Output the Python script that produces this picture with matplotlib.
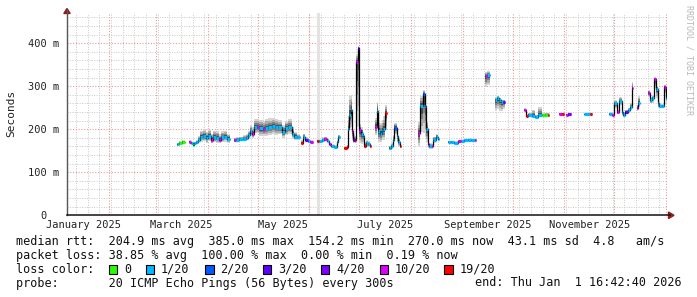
import numpy as np
import matplotlib
matplotlib.use("Agg")
import matplotlib.pyplot as plt
from matplotlib.patches import Polygon, Rectangle
from matplotlib.lines import Line2D

N = None
# days since 2025-01-01 (step start), median rtt in ms, loss (x/20), smoke spread below/above median (ms)
days = [
    71.5, 73.0, 74.5, 76.5, 78.9, 80.0, 81.0, 82.0, 83.0, 84.3,
    85.3, 87.0, 89.0, 90.5, 91.8, 93.0, 95.0, 96.8, 98.0, 100.0,
    101.8, 103.5, 105.9, 107.0, 109.0, 111.0, 113.0, 114.3, 115.5, 116.7,
    118.0, 119.5, 121.0, 123.0, 124.5, 126.5, 128.5, 130.5, 132.5, 134.8,
    136.5, 138.5, 140.7, 142.0, 143.7, 145.3, 146.0, 147.3, 148.5, 150.0,
    151.5, 153.0, 155.7, 157.0, 158.5, 160.0, 161.5, 163.0, 164.0, 166.0,
    167.7, 168.5, 169.3, 172.0, 173.5, 174.2, 175.0, 176.0, 176.8, 177.5,
    178.3, 179.3, 180.2, 181.0, 182.0, 183.0, 184.0, 185.0, 186.5, 187.5,
    188.2, 190.5, 191.5, 192.5, 193.5, 194.5, 195.5, 196.5, 197.5, 198.9,
    200.0, 201.0, 202.0, 203.5, 204.5, 205.3, 206.0, 216.4, 217.5, 219.3,
    220.3, 221.0, 222.0, 223.0, 224.5, 225.5, 226.9, 228.0, 228.8, 234.4,
    236.0, 238.0, 240.4, 242.0, 244.0, 246.0, 248.0, 250.4, 251.2, 256.5,
    257.5, 259.3, 262.2, 263.5, 265.0, 266.0, 267.3, 268.5, 279.8, 280.8,
    282.5, 284.5, 286.5, 288.5, 290.5, 292.5, 294.0, 294.8, 301.0, 302.5,
    304.0, 305.3, 306.5, 308.0, 316.0, 319.5, 320.8, 331.0, 332.5, 333.8,
    335.4, 337.0, 338.5, 339.5, 340.5, 342.0, 343.5, 344.5, 345.5, 347.8,
    348.5, 349.3, 354.2, 355.2, 356.5, 357.8, 358.8, 360.0, 361.0, 362.5,
    363.7, 364.8, 365.7]

median = [
    165, 169, 171, N, 171, 168, 163, 167, 170, 176,
    183, 184, 180, 185, 175, 182, 180, 176, 181, 183,
    178, N, 174, 176, 177, 178, 180, 186, 195, 190,
    205, 205, 202, 200, 203, 205, 207, 205, 204, 194,
    202, 205, 190, 183, 181, N, 168, 182, 175, 172,
    170, N, 172, 172, 175, 177, 173, 165, 160, 159,
    170, 183, N, 156, 158, 200, 233, 245, 195, 176,
    175, 355, 388, 198, 190, 184, 162, 167, 165, 161,
    N, 206, 243, 195, 190, 196, 200, 238, N, 156,
    160, 175, 203, 185, 170, 160, N, 191, 253, 282,
    253, 200, 166, 160, 160, 175, 183, 178, N, 170,
    170, 169, 172, 172, 174, 176, 174, 175, N, 323,
    327, N, 268, 272, 268, 263, 263, N, 245, 231,
    234, 231, 229, 232, 233, 234, 234, N, 236, 236,
    N, 234, 236, N, 235, 235, N, 235, 233, 260,
    240, 266, 240, 233, 240, 244, 252, 295, N, 250,
    262, N, 285, 268, 272, 316, 293, 260, 254, 254,
    298, 272, N]

loss = [
    1, 0, 0, 0, 10, 1, 0, 1, 1, 1,
    1, 1, 1, 1, 10, 1, 1, 10, 1, 1,
    1, 0, 10, 1, 1, 1, 1, 1, 1, 10,
    1, 10, 1, 10, 1, 1, 1, 1, 1, 1,
    1, 1, 1, 1, 1, 0, 19, 1, 3, 1,
    10, 0, 19, 1, 1, 10, 1, 10, 1, 1,
    1, 1, 0, 19, 19, 1, 1, 1, 10, 3,
    19, 10, 4, 10, 1, 1, 19, 1, 1, 19,
    0, 10, 1, 1, 1, 1, 1, 19, 0, 1,
    1, 1, 2, 1, 1, 19, 0, 10, 1, 2,
    1, 1, 10, 1, 10, 1, 1, 1, 0, 1,
    1, 1, 10, 1, 1, 1, 1, 10, 0, 10,
    1, 0, 1, 1, 1, 1, 3, 0, 10, 19,
    1, 1, 1, 1, 0, 0, 19, 0, 10, 19,
    0, 10, 4, 0, 1, 19, 0, 1, 10, 1,
    10, 1, 1, 1, 3, 1, 1, 10, 0, 10,
    1, 0, 10, 1, 1, 10, 1, 1, 1, 1,
    10, 1, 0]

smoke_lo = [
    3, 3, 3, 0, 3, 3, 3, 3, 3, 6,
    12, 12, 12, 12, 8, 12, 12, 8, 10, 12,
    10, 0, 4, 4, 4, 4, 6, 8, 10, 10,
    14, 14, 18, 16, 18, 18, 18, 18, 16, 14,
    16, 16, 12, 8, 6, 0, 4, 6, 4, 4,
    3, 0, 3, 3, 4, 4, 3, 3, 3, 3,
    3, 3, 0, 3, 3, 20, 30, 40, 20, 8,
    8, 150, 180, 30, 25, 15, 6, 8, 6, 5,
    0, 20, 40, 25, 20, 20, 25, 40, 0, 4,
    5, 10, 15, 15, 10, 4, 0, 30, 60, 90,
    70, 30, 10, 6, 5, 6, 6, 5, 0, 2,
    2, 2, 2, 2, 2, 2, 2, 2, 0, 25,
    25, 0, 25, 25, 25, 20, 15, 0, 3, 3,
    3, 3, 3, 3, 3, 3, 3, 0, 2, 2,
    0, 2, 2, 0, 2, 2, 0, 3, 3, 10,
    5, 10, 8, 4, 4, 5, 8, 20, 0, 8,
    10, 0, 10, 8, 10, 20, 20, 10, 4, 4,
    15, 10, 0]

smoke_hi = [
    3, 3, 3, 0, 3, 3, 3, 4, 4, 8,
    14, 16, 14, 14, 14, 14, 16, 12, 14, 14,
    12, 0, 6, 6, 6, 8, 8, 10, 14, 14,
    18, 18, 20, 20, 20, 20, 18, 18, 18, 16,
    18, 18, 14, 10, 8, 0, 6, 8, 6, 6,
    4, 0, 4, 4, 6, 6, 5, 4, 4, 4,
    4, 4, 0, 4, 6, 30, 45, 35, 25, 12,
    10, 20, 5, 15, 15, 10, 8, 8, 8, 6,
    0, 20, 20, 25, 25, 25, 30, 18, 0, 6,
    8, 12, 12, 15, 10, 6, 0, 25, 25, 8,
    20, 20, 10, 8, 6, 8, 6, 5, 0, 3,
    3, 3, 3, 3, 3, 3, 3, 3, 0, 10,
    8, 0, 6, 6, 5, 5, 5, 0, 4, 4,
    4, 14, 4, 20, 4, 4, 4, 0, 2, 2,
    0, 2, 2, 0, 2, 2, 0, 4, 4, 8,
    5, 8, 6, 5, 5, 6, 10, 15, 0, 6,
    15, 0, 6, 6, 8, 5, 8, 8, 4, 4,
    5, 6, 0]

# a lone light-grey outlier column
ghost_days = [155.9]
ghost_top = [470]

loss_levels = [0, 1, 2, 3, 4, 10, 19]
loss_labels = ["0", "1/20", "2/20", "3/20", "4/20", "10/20", "19/20"]
loss_colors = ["#26ff00", "#00b8ff", "#0059ff", "#5e00ff", "#7e00ff", "#dd00ff", "#ff0000"]
color_of = dict(zip(loss_levels, loss_colors))

y_ticks = [0, 100, 200, 300, 400]
y_tick_labels = ["0  ", "100 m", "200 m", "300 m", "400 m"]
month_labels = ["January 2025", "March 2025", "May 2025", "July 2025",
                "September 2025", "November 2025"]

stat_lines = [
    "median rtt:  204.9 ms avg  385.0 ms max  154.2 ms min  270.0 ms now  43.1 ms sd  4.8   am/s",
    "packet loss: 38.85 % avg  100.00 % max  0.00 % min  0.19 % now",
]
probe_text = "probe:       20 ICMP Echo Pings (56 Bytes) every 300s"
end_text = "end: Thu Jan  1 16:42:40 2026"

# ---------------------------------------------------------------
W, H = 697, 297
MONO = "DejaVu Sans Mono"
fig = plt.figure(figsize=(W / 100, H / 100), dpi=100)
fig.patch.set_facecolor("white")

X0, X1, Y0, YT = 67, 667, 215.3, 13
ax = fig.add_axes([X0 / W, (H - Y0) / H, (X1 - X0) / W, (Y0 - YT) / H])
ax.set_facecolor("white")
ax.set_xlim(5.7, 365.7)
ax.set_ylim(0, 470)
for s in ax.spines.values():
    s.set_visible(False)

def F(x, y):
    return (x / W, 1 - y / H)

# grid
dot = (0, (1, 1.5))
for v in range(20, 470, 20):
    if v % 100:
        ax.axhline(v, color="#c8c8c8", lw=0.7, ls=dot, zorder=0)
for v in range(100, 470, 100):
    ax.axhline(v, color="#eb9a9a", lw=0.8, ls=dot, zorder=0.5)
for d in np.arange(11, 366, 7):
    ax.axvline(d, color="#c8c8c8", lw=0.7, ls=dot, zorder=0)
ms = np.arange(np.datetime64("2025-01"), np.datetime64("2026-02"), dtype="datetime64[M]")
month_days = (ms.astype("datetime64[D]") - np.datetime64("2025-01-01")).astype(float)
for d in month_days:
    if 5.7 < d <= 366:
        ax.axvline(d, color="#eb9a9a", lw=0.8, ls=dot, zorder=0.5)

# ticks
ax.set_yticks(y_ticks)
ax.set_yticklabels(y_tick_labels, fontfamily=MONO, fontsize=7.5)
mids = [(month_days[i] + month_days[i + 1]) / 2 for i in range(0, 12, 2)]
ax.set_xticks(mids)
ax.set_xticklabels(month_labels, fontfamily=MONO, fontsize=7.5)
ax.tick_params(axis="y", length=0, pad=5.5, colors="#222222")
ax.tick_params(axis="x", length=0, pad=3.4, colors="#222222")
for t in ax.get_yticklabels():
    if t.get_text().strip() == "0":
        t.set_verticalalignment("center_baseline")

# data -> step arrays
dd = np.array(days, float)
med = np.array([np.nan if v is None else v for v in median], float)
lo = np.array(smoke_lo, float)
hi = np.array(smoke_hi, float)

def steps(vals):
    xs, ys = [], []
    for i in range(len(dd) - 1):
        if np.isnan(med[i]):
            xs.append(dd[i]); ys.append(np.nan)
        else:
            xs += [dd[i], dd[i + 1]]
            ys += [vals[i], vals[i]]
    return np.array(xs), np.array(ys)

# ghost column
ax.bar(ghost_days, ghost_top, width=1.6, color="#e2e2e2", align="edge", zorder=1, lw=0)

# smoke layers
layers = [(1.0, "#d4d4d4"), (0.75, "#acacac"), (0.5, "#808080"), (0.28, "#4e4e4e")]
for f, c in layers:
    xs, ylo = steps(med - lo * f)
    _, yhi = steps(med + hi * f)
    ax.fill_between(xs, ylo, yhi, color=c, lw=0, zorder=2)

# median line
xs, ys = steps(med)
ax.plot(xs, ys, color="black", lw=0.9, zorder=3, solid_capstyle="butt")
for i in range(len(dd) - 1):
    if not np.isnan(med[i]):
        ax.hlines(med[i], dd[i], dd[i + 1], color=color_of[loss[i]], lw=2.3, zorder=4)

# axis lines & arrows
fig.add_artist(Line2D([X0 / W, X0 / W], [1 - Y0 / H, 1 - 10 / H], color="#555555", lw=1.0))
fig.add_artist(Line2D([X0 / W, 670 / W], [1 - Y0 / H, 1 - Y0 / H], color="#111111", lw=1.1))
arrow_c = "#8c1f1f"
fig.add_artist(Polygon([F(63.8, 13.5), F(70.2, 13.5), F(67, 8.5)], closed=True,
                       color=arrow_c, transform=fig.transFigure))
fig.add_artist(Polygon([F(668.5, 212), F(668.5, 218.6), F(674, 215.3)], closed=True,
                       color=arrow_c, transform=fig.transFigure))

# labels
fig.text(*F(11, 113.5), "Seconds", rotation=90, ha="center", va="center",
         fontfamily=MONO, fontsize=8, color="#222222")
fig.text(*F(689, 5), "RRDTOOL / TOBI OETIKER", rotation=-90, ha="center", va="top",
         fontfamily=MONO, fontsize=6, color="#b8b8b8")

# legend / stats
fs = 8.5
fig.text(*F(16, 241.5), stat_lines[0], fontfamily=MONO, fontsize=fs, va="center", color="#111111")
fig.text(*F(16, 255.2), stat_lines[1], fontfamily=MONO, fontsize=fs, va="center", color="#111111")
fig.text(*F(16, 269.3), "loss color:", fontfamily=MONO, fontsize=fs, va="center", color="#111111")
box_x = [108.5, 145.5, 205, 262.5, 320.5, 379.5, 444.2]
for bx, c, lab in zip(box_x, loss_colors, loss_labels):
    fig.add_artist(Rectangle(F(bx, 273.8), 8.5 / W, 8.8 / H, facecolor=c, edgecolor="black",
                             lw=0.8, transform=fig.transFigure))
    fig.text(*F(bx + 15.5, 269.3), lab, fontfamily=MONO, fontsize=fs, va="center", color="#111111")
fig.text(*F(16, 283), probe_text, fontfamily=MONO, fontsize=fs, va="center", color="#111111")
fig.text(*F(682, 283), end_text, fontfamily=MONO, fontsize=fs, va="center", ha="right", color="#111111")

fig.savefig("out.png", dpi=100, facecolor="white")
